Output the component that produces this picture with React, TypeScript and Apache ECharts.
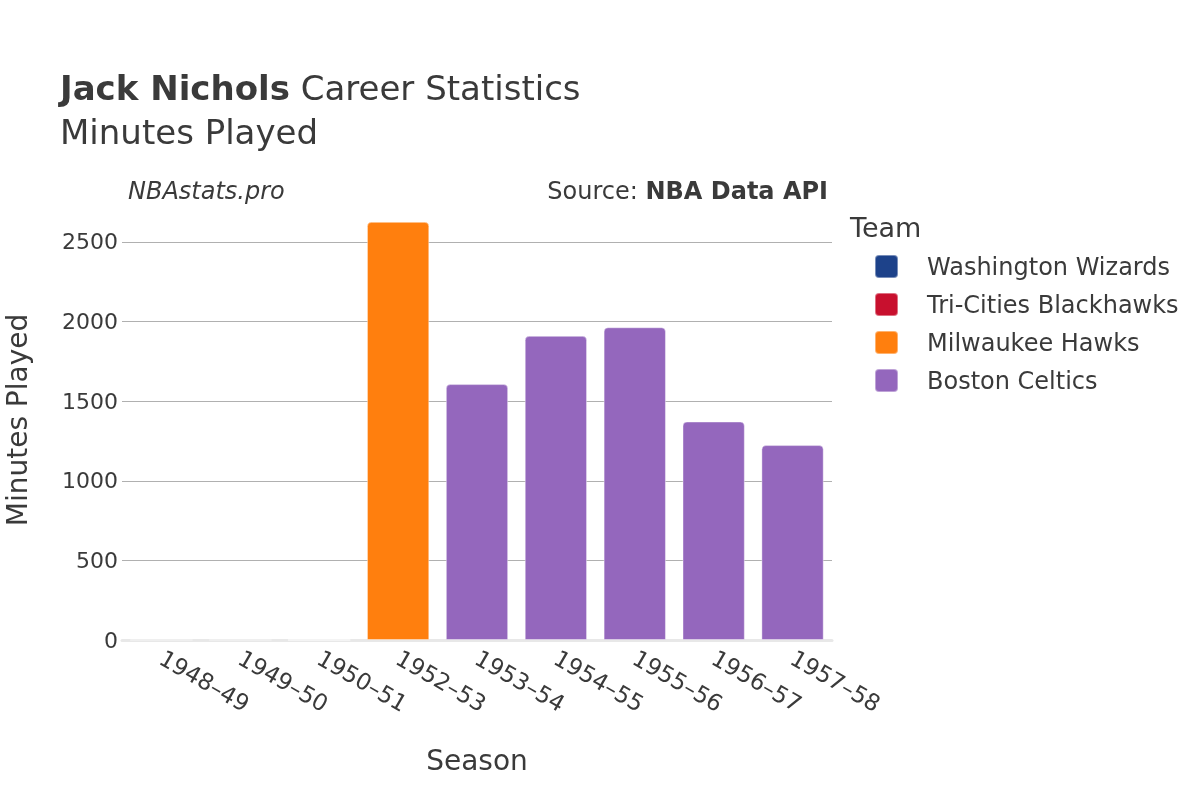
import React, { useEffect, useRef } from "react";
import * as echarts from "echarts";

const seasons = ["1948–49", "1949–50", "1950–51", "1952–53", "1953–54", "1954–55", "1955–56", "1956–57", "1957–58"];
const teams = ["Washington Wizards", "Tri-Cities Blackhawks", "Milwaukee Hawks", "Boston Celtics"];
const teamColors = ["#1d428a", "#c8102e", "#ff7f0e", "#9467bd"];
const washington = [0, 0, 0, null, null, null, null, null, null];
const triCities = [null, null, 0, null, null, null, null, null, null];
const milwaukee = [null, null, null, 2626, null, null, null, null, null];
const boston = [null, null, null, null, 1607, 1910, 1964, 1372, 1224];
const teamValues = [washington, triCities, milwaukee, boston];
const yTicks = [0, 500, 1000, 1500, 2000, 2500];

const FONT = "DejaVu Sans";
const TXT = "#3a3a3a";
const ICON = "path://M4,0 H19 Q23,0 23,4 V19 Q23,23 19,23 H4 Q0,23 0,19 V4 Q0,0 4,0 Z";

export default function App() {
  const ref = useRef<HTMLDivElement>(null);
  useEffect(() => {
    if (!ref.current) return;
    const chart = echarts.init(ref.current, null, { renderer: "svg" });
    chart.setOption({
      animation: false,
      textStyle: { fontFamily: FONT, color: TXT },
      grid: { left: 122, right: 368, top: 201, bottom: 160 },
      xAxis: {
        type: "category",
        data: seasons,
        axisTick: { show: false },
        axisLine: { show: true, lineStyle: { color: "#e8e8e8", width: 3 } },
        axisLabel: { rotate: -30, fontSize: 23, color: TXT, margin: 16, fontFamily: FONT, interval: 0 },
      },
      yAxis: {
        type: "value",
        min: 0,
        max: 2757,
        interval: 500,
        axisLine: { show: false },
        axisTick: { show: false },
        axisLabel: { fontSize: 22, color: TXT, margin: 4, fontFamily: FONT, showMaxLabel: false,
          formatter: (v: number) => (yTicks.includes(v) ? String(v) : "") },
        splitLine: { show: true, showMinLine: false, showMaxLine: false, lineStyle: { color: "#b0b0b0", width: 1 } },
      },
      legend: {
        data: teams,
        orient: "vertical",
        left: 869,
        top: 249,
        itemWidth: 23,
        itemHeight: 23,
        itemGap: 13,
        icon: ICON,
        textStyle: { fontSize: 24, color: TXT, fontFamily: FONT, padding: [0, 0, 0, 24], lineHeight: 23 },
      },
      series: teams.map((t, i) => ({
        name: t,
        type: "bar",
        stack: "total",
        data: teamValues[i],
        barCategoryGap: "21%",
        itemStyle: { color: teamColors[i], borderRadius: [4, 4, 0, 0], borderColor: "rgba(255,255,255,0.4)", borderWidth: 1 },
      })),
      graphic: [
        {
          type: "text", x: 60, y: 88,
          style: {
            text: "{b|Jack Nichols} Career Statistics",
            rich: { b: { fontWeight: "bold", fontSize: 34, fontFamily: FONT, fill: TXT } },
            fontSize: 34, fontFamily: FONT, fill: TXT, textVerticalAlign: "middle",
          },
        },
        { type: "text", x: 60, y: 132, style: { text: "Minutes Played", fontSize: 34, fontFamily: FONT, fill: TXT, textVerticalAlign: "middle" } },
        { type: "text", x: 128, y: 191, style: { text: "NBAstats.pro", fontSize: 24, fontStyle: "italic", fontFamily: FONT, fill: TXT, textVerticalAlign: "middle" } },
        {
          type: "text", x: 828, y: 191,
          style: {
            text: "Source: {b|NBA Data API}",
            rich: { b: { fontWeight: "bold", fontSize: 24, fontFamily: FONT, fill: TXT } },
            fontSize: 24, fontFamily: FONT, fill: TXT, textAlign: "right", textVerticalAlign: "middle",
          },
        },
        { type: "text", x: 850, y: 227, style: { text: "Team", fontSize: 27, fontFamily: FONT, fill: TXT, textVerticalAlign: "middle" } },
        { type: "text", x: 477, y: 760, style: { text: "Season", fontSize: 28, fontFamily: FONT, fill: TXT, textAlign: "center", textVerticalAlign: "middle" } },
        { type: "text", x: 17, y: 420, rotation: Math.PI / 2, style: { text: "Minutes Played", fontSize: 28, fontFamily: FONT, fill: TXT, textAlign: "center", textVerticalAlign: "middle" } },
      ],
    });
    return () => chart.dispose();
  }, []);
  return <div ref={ref} style={{ position: "fixed", left: 0, top: 0, width: 1200, height: 800 }} />;
}
